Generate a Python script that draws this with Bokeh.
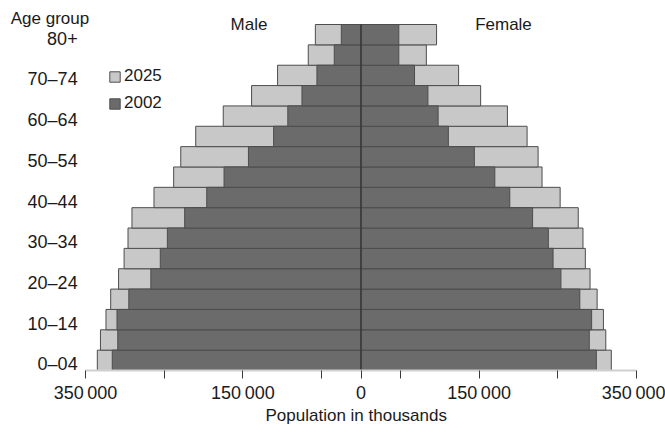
from bokeh.plotting import figure
from bokeh.models import (ColumnDataSource, Range1d, FixedTicker, Legend, LegendItem, Label,
                          Title)
from bokeh.core.properties import value
from bokeh.embed import file_html
from bokeh.resources import INLINE

# ---------------- data (population in thousands) ----------------
age_groups = ["0–04", "05–09", "10–14", "15–19", "20–24", "25–29", "30–34", "35–39",
              "40–44", "45–49", "50–54", "55–59", "60–64", "65–69", "70–74", "75–79", "80+"]
male_2002 = [316000, 309000, 310000, 295000, 267000, 255000, 246000, 224000,
             196000, 174000, 143000, 111000, 93000, 75000, 56000, 34000, 25000]
male_2025 = [335000, 331000, 324000, 318000, 308000, 301000, 296000, 291000,
             263000, 238000, 229000, 210000, 175000, 139000, 106000, 67000, 58000]
female_2002 = [299000, 290000, 293000, 278000, 254000, 244000, 238000, 218000,
               189000, 170000, 144000, 111000, 98000, 85000, 68000, 48000, 48000]
female_2025 = [318000, 311000, 308000, 300000, 291000, 285000, 282000, 276000,
               253000, 230000, 225000, 211000, 186000, 152000, 124000, 83000, 96000]
x_ticks = [-350000, -250000, -150000, -50000, 0, 50000, 150000, 250000, 350000]
x_tick_labels = ["350\u2009000", "", "150\u2009000", "", "0", "", "150\u2009000", "", "350\u2009000"]
label_every = 2
y_title = "Age group"
x_title = "Population in thousands"

FONT = "Liberation Sans, Arial, sans-serif"
LIGHT = "#c8c8c8"
DARK = "#6b6b6b"
EDGE = "#4d4d4d"
TXT = "#1a1a1a"

n = len(age_groups)
src = ColumnDataSource(dict(
    y=list(range(n)),
    m02=[-v for v in male_2002], m25=[-v for v in male_2025],
    f02=female_2002, f25=female_2025,
))

# age-group labels (every other group), drawn just left of the axis start
lab_idx = list(range(0, n, label_every))
lab_src = ColumnDataSource(dict(
    x=[-360000] * len(lab_idx),
    y=[i - 0.2 for i in lab_idx],
    t=[age_groups[i] for i in lab_idx],
))

p = figure(width=665, height=438, output_backend="svg", toolbar_location=None,
           x_range=Range1d(-458000, 386850), y_range=Range1d(-0.5, 17.68),
           min_border_left=0, min_border_right=0, min_border_top=0, min_border_bottom=68)
p.outline_line_color = None
p.grid.grid_line_color = None
p.yaxis.visible = False

r_m25 = p.hbar(y="y", left="m25", right=0, height=1.0, source=src,
               fill_color=LIGHT, line_color=EDGE, line_width=1)
r_f25 = p.hbar(y="y", left=0, right="f25", height=1.0, source=src,
               fill_color=LIGHT, line_color=EDGE, line_width=1)
r_m02 = p.hbar(y="y", left="m02", right=0, height=1.0, source=src,
               fill_color=DARK, line_color=EDGE, line_width=1)
r_f02 = p.hbar(y="y", left=0, right="f02", height=1.0, source=src,
               fill_color=DARK, line_color=EDGE, line_width=1)

# zero line through the bars
p.segment(x0=[0], y0=[-0.5], x1=[0], y1=[n - 0.5], line_color="#2a2a2a", line_width=1)

# age labels
p.text(x="x", y="y", text="t", source=lab_src, text_align="right", text_baseline="middle",
       text_font=value(FONT), text_font_size="18px", text_color=TXT)

# x axis
xa = p.xaxis[0]
xa.bounds = (-350000, 350000)
xa.ticker = FixedTicker(ticks=x_ticks)
xa.major_label_overrides = {t: l for t, l in zip(x_ticks, x_tick_labels)}
xa.axis_line_color = "#d0d0d0"
xa.axis_line_width = 2
xa.major_tick_line_color = "#3a3a3a"
xa.major_tick_out = 8
xa.major_tick_in = 0
xa.minor_tick_line_color = None
xa.major_label_text_font = FONT
xa.major_label_text_font_size = "18px"
xa.major_label_text_color = TXT
xa.major_label_standoff = 4

# x-axis title, centred under the axis bounds rather than the whole frame
p.add_layout(Title(text=x_title, align="left", offset=265, text_font=FONT,
                   text_font_size="17px", text_font_style="normal", text_color=TXT,
                   standoff=-3), "below")

# headings
p.add_layout(Label(x=-445000, y=16.82, text=y_title, text_font=FONT, text_font_size="17px",
                   text_color=TXT, text_align="left", text_baseline="middle"))
p.add_layout(Label(x=-142300, y=16.48, text="Male", text_font=FONT, text_font_size="17px",
                   text_color=TXT, text_align="center", text_baseline="middle"))
p.add_layout(Label(x=181000, y=16.48, text="Female", text_font=FONT, text_font_size="17px",
                   text_color=TXT, text_align="center", text_baseline="middle"))

legend = Legend(items=[LegendItem(label="2025", renderers=[r_m25]),
                       LegendItem(label="2002", renderers=[r_m02])],
                location=(108, 255), border_line_color=None, background_fill_alpha=0,
                padding=0, margin=0, spacing=3, glyph_width=13, glyph_height=13,
                label_height=24, label_standoff=3, label_text_font=FONT,
                label_text_font_size="17px", label_text_color=TXT)
p.add_layout(legend)

open("out.html", "w").write(file_html(p, INLINE))
